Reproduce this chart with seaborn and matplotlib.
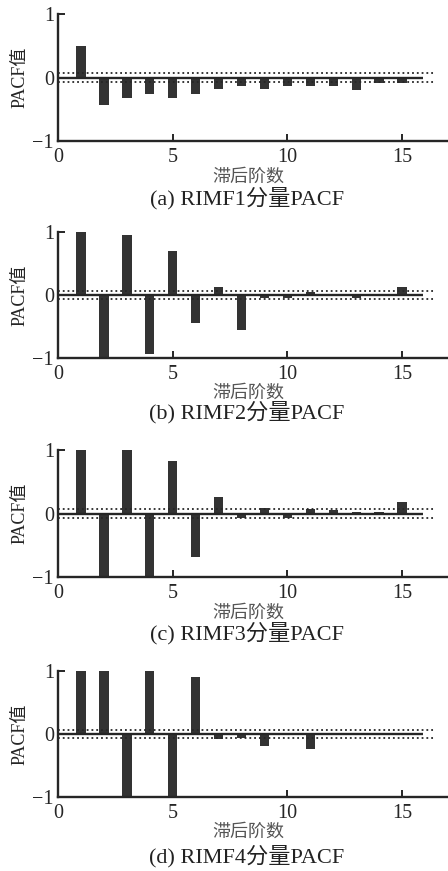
import numpy as np
import pandas as pd
import seaborn as sns
import matplotlib.pyplot as plt

lags = list(range(1, 16))
pacf_rimf1 = [0.49, -0.43, -0.32, -0.26, -0.32, -0.26, -0.18, -0.14, -0.18, -0.14, -0.14, -0.14, -0.20, -0.08, -0.08]
pacf_rimf2 = [1.0, -1.0, 0.95, -0.93, 0.70, -0.45, 0.12, -0.55, -0.05, -0.05, 0.05, 0.01, -0.05, 0.01, 0.12]
pacf_rimf3 = [1.0, -1.0, 1.0, -1.0, 0.82, -0.68, 0.26, -0.07, 0.08, -0.07, 0.07, 0.06, 0.03, 0.03, 0.18]
pacf_rimf4 = [1.0, 1.0, -1.0, 1.0, -1.0, 0.90, -0.08, -0.07, -0.19, -0.01, -0.24, 0.01, 0.01, 0.01, -0.01]
captions = ['(a) RIMF1分量PACF', '(b) RIMF2分量PACF', '(c) RIMF3分量PACF', '(d) RIMF4分量PACF']
bound = 0.07  # confidence bound

sns.set_theme(style='ticks')
plt.rcParams['font.family'] = ['Liberation Serif', 'Noto Sans CJK SC']
plt.rcParams['axes.unicode_minus'] = True

fig = plt.figure(figsize=(4.48, 8.71), dpi=100)

# axes boxes in figure fraction (left, bottom, width, height)
boxes = [(0.1295, 0.8381, 0.8705, 0.1458),
         (0.1295, 0.5890, 0.8705, 0.1447),
         (0.1295, 0.3375, 0.8705, 0.1458),
         (0.1295, 0.0850, 0.8705, 0.1447)]
caption_y = [0.7727, 0.527, 0.2733, 0.0164]
series = [pacf_rimf1, pacf_rimf2, pacf_rimf3, pacf_rimf4]

ink = '#262626'
for box, vals, cap, cy in zip(boxes, series, captions, caption_y):
    ax = fig.add_axes(box)
    df = pd.DataFrame({'lag': lags, 'pacf': vals})
    sns.barplot(data=df, x='lag', y='pacf', native_scale=True, width=0.41,
                color='#333333', saturation=1, linewidth=0, errorbar=None, ax=ax)
    ax.hlines(0, 0, 15.9, color=ink, lw=1.7, zorder=3)
    ax.hlines([bound, -bound], 0, 16.4, color=ink, lw=1.3, linestyles=':', zorder=3)
    ax.set_xlim(0, 17)
    ax.set_ylim(-1, 1)
    ax.set_xticks([0, 5, 10, 15])
    ax.set_xticklabels(['0', '5', '10', '15'])
    ax.set_yticks([-1, 0, 1])
    ax.set_yticklabels(['\u22121', '0', '1'])
    for s in ['top', 'right']:
        ax.spines[s].set_visible(False)
    for s in ['left', 'bottom']:
        ax.spines[s].set_linewidth(1.7)
        ax.spines[s].set_color(ink)
    ax.tick_params(direction='in', length=5, width=1.4, colors=ink, labelsize=14.5)
    ax.tick_params(axis='x', pad=5)
    ax.tick_params(axis='y', pad=3)
    ax.set_xlabel('滞后阶数', fontsize=13, color='#555555', va='center')
    ax.xaxis.set_label_coords(0.487, -0.283)
    ax.set_ylabel('PACF值', fontsize=13, color=ink, va='center')
    ax.yaxis.set_label_coords(-0.097, 0.5)
    ax.set_facecolor('white')
    fig.text(0.551, cy, cap, ha='center', va='center', fontsize=16, color='#222222')

fig.savefig('out.png', dpi=100, facecolor='white')
